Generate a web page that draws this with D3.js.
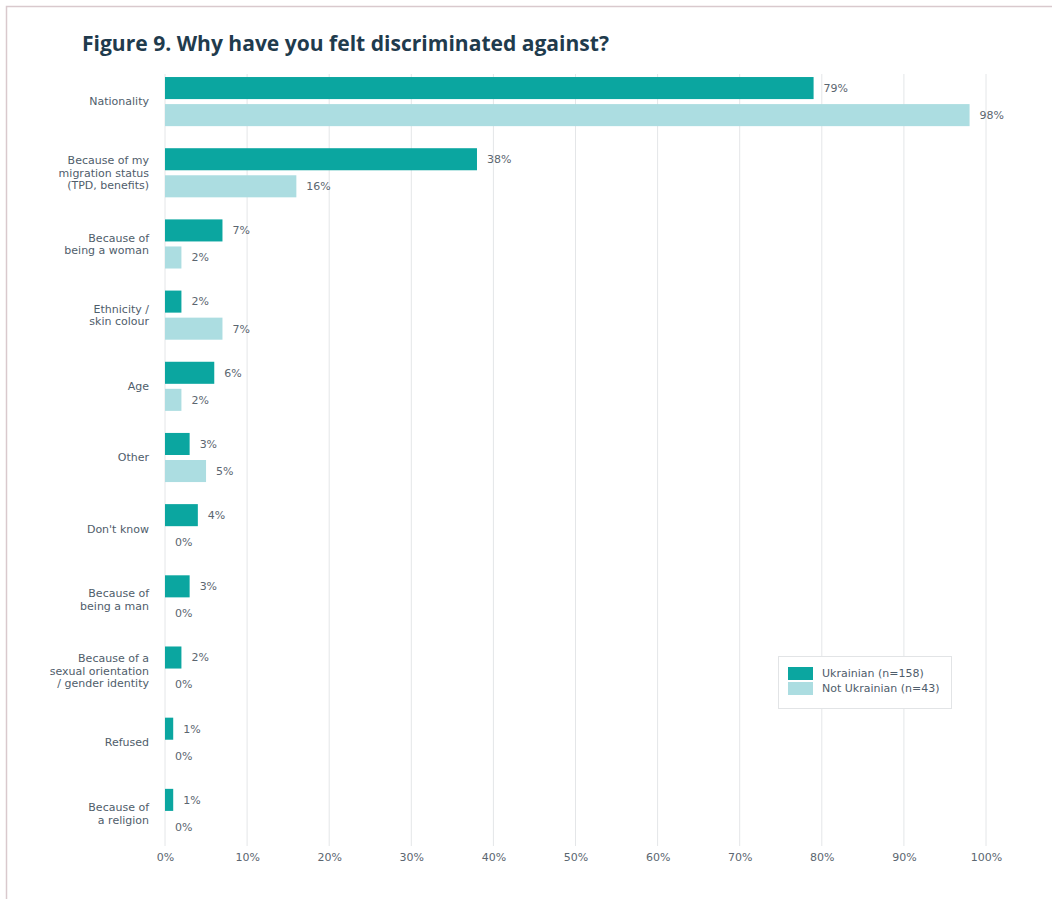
<!DOCTYPE html>
<html>
<head>
<meta charset="utf-8">
<script src="https://cdn.jsdelivr.net/npm/d3@7"></script>
<style>
  html, body { margin: 0; padding: 0; background: #fff; }
  svg { display: block; font-family: "DejaVu Sans", "Open Sans", sans-serif; }
</style>
</head>
<body>
<svg id="chart" width="1052" height="899"></svg>
<script>
// Survey answers: reasons for feeling discriminated against
const categories = [
  ["Nationality"],
  ["Because of my", "migration status", "(TPD, benefits)"],
  ["Because of", "being a woman"],
  ["Ethnicity /", "skin colour"],
  ["Age"],
  ["Other"],
  ["Don't know"],
  ["Because of", "being a man"],
  ["Because of a", "sexual orientation", "/ gender identity"],
  ["Refused"],
  ["Because of", "a religion"]
];
const ukrainian    = [79, 38, 7, 2, 6, 3, 4, 3, 2, 1, 1];
const notUkrainian = [98, 16, 2, 7, 2, 5, 0, 0, 0, 0, 0];
const seriesNames  = ["Ukrainian (n=158)", "Not Ukrainian (n=43)"];
const seriesColors = ["#0ba6a0", "#acdde1"];
const xTicks = [0, 10, 20, 30, 40, 50, 60, 70, 80, 90, 100];

const svg = d3.select("#chart");
const textFont = "'DejaVu Sans', 'Open Sans', sans-serif";
const textSize = 11;

// page frame
svg.append("path")
  .attr("d", "M6.5,899 V6.5 H1052")
  .attr("fill", "none")
  .attr("stroke", "#d9c9cd")
  .attr("stroke-width", 1.5);

// title
svg.append("text")
  .attr("x", 82).attr("y", 51)
  .attr("fill", "#1f3b4d")
  .attr("font-family", "'Open Sans', sans-serif")
  .attr("font-size", 21).attr("font-weight", 700)
  .attr("textLength", 527).attr("lengthAdjust", "spacingAndGlyphs")
  .text("Figure 9. Why have you felt discriminated against?");

const keys = categories.map(c => c.join(" "));
const x = d3.scaleLinear().domain([0, 100]).range([165, 986]);
const y = d3.scaleBand().domain(keys).range([66, 849]).paddingInner(0.31).paddingOuter(0.155);
const ySub = d3.scaleBand().domain([0, 1]).range([0, y.bandwidth()]).paddingInner(0.185);

// vertical gridlines
svg.append("g").selectAll("line").data(xTicks).join("line")
  .attr("x1", d => x(d)).attr("x2", d => x(d))
  .attr("y1", 74).attr("y2", 846)
  .attr("stroke", "#e4e6e8").attr("stroke-width", 1);

// x axis labels
const xAxis = d3.axisBottom(x).tickValues(xTicks).tickFormat(d => d + "%").tickSize(0).tickPadding(0);
const gx = svg.append("g").attr("transform", "translate(0,853)").call(xAxis);
gx.select(".domain").remove();
gx.selectAll("text").attr("font-size", textSize).attr("fill", "#5b6670")
  .attr("font-family", textFont);

// category labels
const labels = svg.append("g");
categories.forEach((lines, i) => {
  const cy = y(keys[i]) + y.bandwidth() / 2;
  const lh = 12.6;
  const t = labels.append("text")
    .attr("x", 149).attr("text-anchor", "end")
    .attr("font-size", textSize).attr("fill", "#4f5d6b");
  lines.forEach((ln, j) => {
    t.append("tspan")
      .attr("x", 149)
      .attr("y", cy + (j - (lines.length - 1) / 2) * lh)
      .attr("dy", "0.35em")
      .text(ln);
  });
});

// bars and value labels
const rows = keys.map((k, i) => ({ key: k, values: [ukrainian[i], notUkrainian[i]] }));
const groups = svg.append("g").selectAll("g").data(rows).join("g")
  .attr("transform", d => `translate(0,${y(d.key)})`);

groups.selectAll("rect").data(d => d.values).join("rect")
  .attr("x", x(0))
  .attr("y", (d, j) => ySub(j))
  .attr("width", d => x(d) - x(0))
  .attr("height", ySub.bandwidth())
  .attr("fill", (d, j) => seriesColors[j]);

groups.selectAll("text").data(d => d.values).join("text")
  .attr("x", d => x(d) + 10)
  .attr("y", (d, j) => ySub(j) + ySub.bandwidth() / 2)
  .attr("dy", "0.35em")
  .attr("font-size", textSize).attr("fill", "#5b6670")
  .text(d => d + "%");

// legend
const lg = svg.append("g").attr("transform", "translate(778,656)");
lg.append("rect").attr("x", 0.5).attr("y", 0.5).attr("width", 173).attr("height", 52)
  .attr("fill", "#fff").attr("stroke", "#e2e4e6");
seriesNames.forEach((name, j) => {
  lg.append("rect").attr("x", 10).attr("y", 11 + j * 15).attr("width", 25).attr("height", 13)
    .attr("fill", seriesColors[j]);
  lg.append("text").attr("x", 44).attr("y", 17.5 + j * 15).attr("dy", "0.35em")
    .attr("font-size", textSize).attr("fill", "#4f5d6b").text(name);
});
</script>
</body>
</html>
